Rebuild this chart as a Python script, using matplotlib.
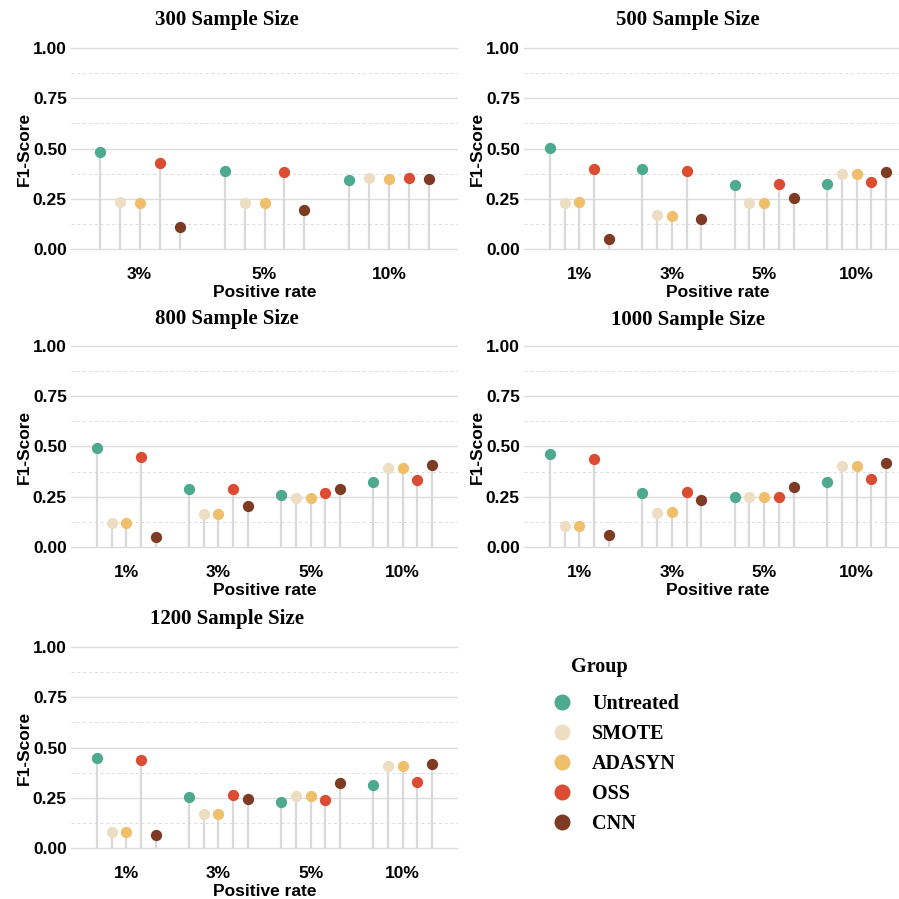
import numpy as np
import matplotlib.pyplot as plt
from matplotlib.lines import Line2D

plt.rcParams['font.family'] = ['Liberation Sans', 'DejaVu Sans']

groups = ['Untreated', 'SMOTE', 'ADASYN', 'OSS', 'CNN']
colors = ['#4DAA8E', '#EDDDC2', '#EFBF6C', '#DB4C33', '#7E3B23']

rates_300 = ['3%', '5%', '10%']
rates_all = ['1%', '3%', '5%', '10%']

# F1 per positive rate, columns in the order of `groups`
f1_300 = [[0.485, 0.236, 0.231, 0.427, 0.110],
          [0.387, 0.231, 0.229, 0.384, 0.193],
          [0.342, 0.352, 0.349, 0.352, 0.346]]
f1_500 = [[0.503, 0.228, 0.233, 0.400, 0.051],
          [0.397, 0.169, 0.164, 0.387, 0.148],
          [0.317, 0.229, 0.229, 0.321, 0.254],
          [0.321, 0.372, 0.372, 0.331, 0.384]]
f1_800 = [[0.491, 0.121, 0.121, 0.449, 0.051],
          [0.289, 0.166, 0.166, 0.290, 0.204],
          [0.260, 0.245, 0.245, 0.267, 0.289],
          [0.323, 0.391, 0.391, 0.335, 0.408]]
f1_1000 = [[0.461, 0.104, 0.104, 0.439, 0.058],
           [0.270, 0.171, 0.172, 0.274, 0.234],
           [0.249, 0.249, 0.249, 0.250, 0.300],
           [0.323, 0.405, 0.401, 0.337, 0.416]]
f1_1200 = [[0.450, 0.079, 0.079, 0.437, 0.065],
           [0.255, 0.167, 0.167, 0.263, 0.243],
           [0.230, 0.260, 0.257, 0.237, 0.321],
           [0.311, 0.409, 0.406, 0.326, 0.419]]

panels = [('300 Sample Size', rates_300, f1_300),
          ('500 Sample Size', rates_all, f1_500),
          ('800 Sample Size', rates_all, f1_800),
          ('1000 Sample Size', rates_all, f1_1000),
          ('1200 Sample Size', rates_all, f1_1200)]

W = H = 899
fig = plt.figure(figsize=(W / 100, H / 100), dpi=100)

# panel boxes in pixels: left, right, y of 0.00, y of 1.00, title centre x
boxes = [(71, 458, 249, 48, 227),
         (524, 912, 249, 48, 688),
         (71, 458, 547, 346, 227),
         (524, 912, 547, 346, 688),
         (71, 458, 848, 647, 227)]
title_y = [20, 20, 319, 320, 619]

dodge = 0.16
for (title, rates, vals), (l, r, y0, y1, tx), ty in zip(panels, boxes, title_y):
    unit = y0 - y1
    bottom = y0 + 0.05 * unit
    top = y1 - 0.05 * unit
    ax = fig.add_axes([l / W, 1 - bottom / H, (r - l) / W, (bottom - top) / H])
    vals = np.array(vals)
    n = len(rates)
    pad = 0.55 if n == 3 else 0.6
    ax.set_xlim(-pad, n - 1 + pad)
    ax.set_ylim(-0.05, 1.05)
    base = np.arange(n)
    for g in range(len(groups)):
        xs = base + (g - 2) * dodge
        ax.vlines(xs, 0, vals[:, g], color='#D9D9D9', lw=1.6, zorder=2)
        ax.scatter(xs, vals[:, g], s=66, color=colors[g], zorder=3, linewidths=0)
    ax.set_yticks([0, 0.25, 0.5, 0.75, 1.0])
    ax.set_yticklabels(['0.00', '0.25', '0.50', '0.75', '1.00'])
    ax.set_yticks([0.125, 0.375, 0.625, 0.875], minor=True)
    ax.set_xticks(base)
    ax.set_xticklabels(rates)
    ax.grid(axis='y', which='major', color='#DCDCDC', lw=1.0, zorder=0)
    ax.grid(axis='y', which='minor', color='#DCDCDC', lw=0.7, ls=(0, (3, 3)), zorder=0)
    ax.tick_params(which='both', length=0)
    ax.tick_params(axis='y', pad=3, labelsize=12.5)
    ax.tick_params(axis='x', pad=6, labelsize=12.5)
    for lab in ax.get_xticklabels() + ax.get_yticklabels():
        lab.set_fontweight('bold')
    for s in ax.spines.values():
        s.set_visible(False)
    ax.set_xlabel('Positive rate', fontsize=12.5, fontweight='bold', labelpad=2)
    ax.set_ylabel('F1-Score', fontsize=12.5, fontweight='bold', labelpad=0.5)
    fig.text(tx / W, 1 - ty / H, title, ha='center', va='center',
             family='Liberation Serif', fontweight='bold', fontsize=15)

handles = [Line2D([], [], ls='none', marker='o', markersize=11.5,
                  markerfacecolor=c, markeredgewidth=0) for c in colors]
leg = fig.legend(handles, groups, loc='upper left',
                 bbox_to_anchor=(552 / W, 1 - 694 / H), frameon=False,
                 borderpad=0, borderaxespad=0, handlelength=1.0,
                 handletextpad=1.0, labelspacing=0.5,
                 prop={'family': 'Liberation Serif', 'weight': 'bold', 'size': 14.5})
fig.text(571 / W, 1 - 667 / H, 'Group', ha='left', va='center',
         family='Liberation Serif', fontweight='bold', fontsize=14.5)

fig.savefig('out.png', dpi=100)
